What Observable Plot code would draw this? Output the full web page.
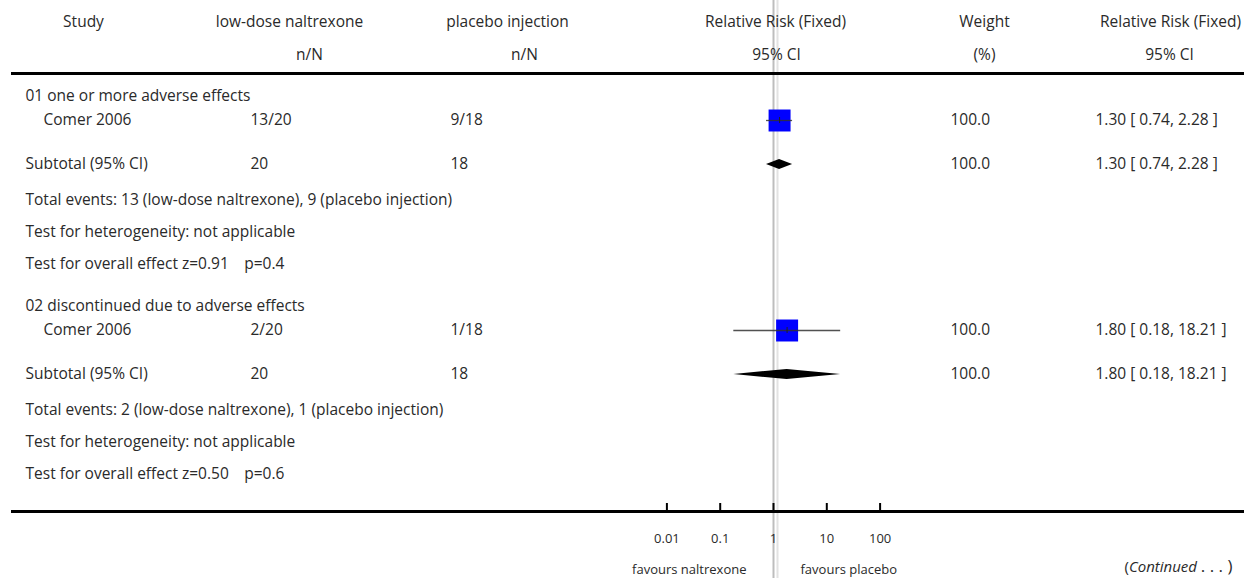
<!DOCTYPE html>
<html><head><meta charset="utf-8">
<script src="https://cdn.jsdelivr.net/npm/d3@7"></script>
<script src="https://cdn.jsdelivr.net/npm/@observablehq/plot@0.6"></script>
<style>body{margin:0;background:#fff} svg{display:block}</style>
</head><body><div id="chart"></div>
<script>
// ---- data ----
const groups = ["01 one or more adverse effects", "02 discontinued due to adverse effects"];
const studies = ["Comer 2006", "Comer 2006"];
const treatEvents = [13, 2];
const treatTotals = [20, 20];
const ctrlEvents = [9, 1];
const ctrlTotals = [18, 18];
const rr = [1.30, 1.80];
const ciLow = [0.74, 0.18];
const ciHigh = [2.28, 18.21];
const weights = [100.0, 100.0];
const zValues = [0.91, 0.50];
const pValues = [0.4, 0.6];
const tickValues = [0.01, 0.1, 1, 10, 100];
const tickLabels = ["0.01", "0.1", "1", "10", "100"];
const treatLabel = "low-dose naltrexone";
const ctrlLabel = "placebo injection";

// ---- layout ----
const W = 1244, H = 578, ML = 11;
const onePx = 773, decadePx = 53.3;
const pxToX = px => Math.pow(10, (px - onePx) / decadePx);
const xDomain = [pxToX(ML), pxToX(W)];
const sectionTop = [96, 306];
const off = {group: 0, study: 24, sub: 68, events: 104, het: 136, eff: 168};
const font = "'Open Sans', Lato, sans-serif";
const ink = "#2a2a2a";

const fmt2 = v => v.toFixed(2);
const ciText = i => `${fmt2(rr[i])} [ ${fmt2(ciLow[i])}, ${fmt2(ciHigh[i])} ]`;

const leftTexts = [], midTexts = [];
function L(px, y, text) { leftTexts.push({x: pxToX(px), y, text}); }
function M(px, y, text) { midTexts.push({x: pxToX(px), y, text}); }
// header
M(83, 22, "Study");
M(289, 22, treatLabel); M(309, 55, "n/N");
M(507, 22, ctrlLabel); M(524, 55, "n/N");
M(775, 22, "Relative Risk (Fixed)"); M(776, 55, "95% CI");
M(984, 22, "Weight"); M(984, 55, "(%)");
M(1170, 22, "Relative Risk (Fixed)"); M(1169, 55, "95% CI");

const studyRows = [], subRows = [];
groups.forEach((g, i) => {
  const t = sectionTop[i];
  L(25, t + off.group, g);
  L(43, t + off.study, studies[i]);
  L(250, t + off.study, `${treatEvents[i]}/${treatTotals[i]}`);
  L(450, t + off.study, `${ctrlEvents[i]}/${ctrlTotals[i]}`);
  L(950, t + off.study, weights[i].toFixed(1));
  L(1095, t + off.study, ciText(i));
  L(25, t + off.sub, "Subtotal (95% CI)");
  L(250, t + off.sub, String(treatTotals[i]));
  L(450, t + off.sub, String(ctrlTotals[i]));
  L(950, t + off.sub, weights[i].toFixed(1));
  L(1095, t + off.sub, ciText(i));
  L(25, t + off.events, `Total events: ${treatEvents[i]} (${treatLabel}), ${ctrlEvents[i]} (${ctrlLabel})`);
  L(25, t + off.het, "Test for heterogeneity: not applicable");
  L(25, t + off.eff, `Test for overall effect z=${zValues[i].toFixed(2)}\u2003p=${pValues[i]}`);
  studyRows.push({y: t + off.study, est: rr[i], lo: ciLow[i], hi: ciHigh[i], w: weights[i]});
  subRows.push({y: t + off.sub, est: rr[i], lo: ciLow[i], hi: ciHigh[i]});
});

const diamondPts = subRows.flatMap((d, i) => [
  {g: i, y: d.y - 5, x1: d.est, x2: d.est},
  {g: i, y: d.y, x1: d.lo, x2: d.hi},
  {g: i, y: d.y + 5, x1: d.est, x2: d.est}
]);

const axisY = 511;
const ticks = tickValues.map((v, i) => ({v, label: tickLabels[i]}));

const plot = Plot.plot({
  width: W, height: H,
  marginLeft: ML, marginRight: 0, marginTop: 0, marginBottom: 0,
  x: {type: "log", domain: xDomain, axis: null},
  y: {domain: [0, H], range: [0, H], axis: null},
  style: {fontFamily: font, fontSize: "15.5px", color: ink, background: "#fff"},
  marks: [
    Plot.ruleX([1], {stroke: "#bdbdbd", strokeWidth: 2}),
    Plot.ruleX([1], {stroke: "#e2e2e2", strokeWidth: 2, dx: 4}),
    Plot.ruleY([73], {stroke: "#000", strokeWidth: 3}),
    Plot.ruleY([axisY], {stroke: "#000", strokeWidth: 3}),
    Plot.ruleX(ticks, {x: "v", y1: axisY - 8, y2: axisY, stroke: "#000", strokeWidth: 2}),
    Plot.text(ticks, {x: "v", y: 538, text: "label", fill: ink, fontSize: 13}),
    Plot.text(["favours naltrexone"], {x: 1, y: 569, dx: -27, text: d => d, textAnchor: "end", fill: ink, fontSize: 13}),
    Plot.text(["favours placebo"], {x: 1, y: 569, dx: 27, text: d => d, textAnchor: "start", fill: ink, fontSize: 13}),
    Plot.dot(studyRows, {x: "est", y: "y", symbol: "square", r: 12.4, fill: "#0000ff", stroke: "none"}),
    Plot.ruleY(studyRows, {y: "y", x1: "lo", x2: "hi", stroke: "#333", strokeWidth: 1.3, strokeOpacity: 0.85}),
    Plot.ruleX(studyRows, {x: "est", y1: d => d.y - 3, y2: d => d.y + 3, stroke: "#222", strokeWidth: 1}),
    Plot.areaX(diamondPts, {y: "y", x1: "x1", x2: "x2", z: "g", fill: "#000", curve: "linear"}),
    // texts
    Plot.text(leftTexts, {x: "x", y: "y", text: "text", textAnchor: "start", fill: ink}),
    Plot.text(midTexts, {x: "x", y: "y", text: "text", textAnchor: "middle", fill: ink}),
    Plot.text(["(Continued . . . )"], {frameAnchor: "right", dx: -12, y: 567, text: d => d, textAnchor: "end", fill: ink, fontSize: 15})
  ]
});
document.getElementById("chart").appendChild(plot);

// italicise "Continued" inside the continuation note
d3.select(plot).selectAll("text").filter(function() { return this.textContent === "(Continued . . . )"; })
  .each(function() {
    const t = d3.select(this);
    t.text(null);
    t.append("tspan").text("(");
    t.append("tspan").attr("font-style", "italic").text("Continued ");
    t.append("tspan").attr("font-size", 17).text(". . . )");
  });
</script>
</body></html>
